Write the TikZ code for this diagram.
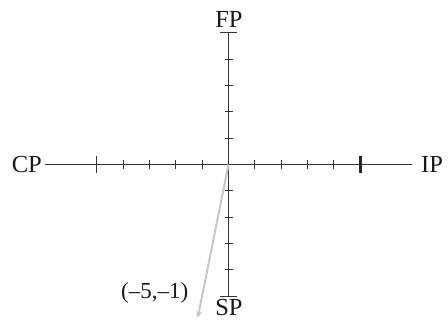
\documentclass[tikz,border=0pt]{standalone}
\usepackage{fontspec}
\setmainfont{Liberation Serif}
\usetikzlibrary{arrows.meta,calc}
\tikzset{
  axis/.style={draw=black!80, line width=1.1pt},
  tick/.style={draw=black!80, line width=1.1pt},
  bigtick/.style={draw=black!85, line width=2.4pt},
  lbl/.style={inner sep=0pt, font=\fontsize{24.5}{28}\selectfont, text=black!90},
  vec/.style={draw={rgb,255:red,200;green,200;blue,192}, line width=2pt,
    -{Stealth[length=7pt,width=6pt]}}
}
\begin{document}
\begin{tikzpicture}[x=1pt,y=-1pt]
\useasboundingbox (0,0) rectangle (448,320);
\coordinate (O) at (228.5,164.5);
\coordinate (L) at (45,164.5);
\coordinate (R) at (412,164.5);
\coordinate (T) at (228.5,32.5);
\coordinate (B) at (228.5,296.5);
\coordinate (V) at (197.7,318);
% axes
\draw[axis] (L) -- (R);
\draw[axis] (T) -- (B);
% horizontal and vertical ticks
\foreach \k in {-4,-3,-2,-1,1,2,3,4}{
  \pgfmathsetmacro{\d}{round(\k*26.3)}
  \draw[tick] ($(O)+(\d,-4.5)$) -- ($(O)+(\d,4.5)$);
  \draw[tick] ($(O)+(-4,\d)$) -- ($(O)+(4.5,\d)$);
}
\draw[tick] ($(O)+(-132,-8.5)$) -- ($(O)+(-132,8.5)$);
\draw[bigtick] ($(O)+(132,-8.5)$) -- ($(O)+(132,8.5)$);
\draw[tick] ($(T)+(-8.5,0)$) -- ($(T)+(8.5,0)$);
\draw[tick] ($(B)+(-8.5,0)$) -- ($(B)+(8.5,0)$);
% labels
\node[lbl, anchor=base] (FP) at (229,27.3) {FP};
\node[lbl, anchor=base] (SP) at (229,315.5) {SP};
\node[lbl, anchor=base east] (CP) at (42,172.7) {CP};
\node[lbl, anchor=base west] (IP) at (421,172.5) {IP};
% vector
\draw[vec] (O) -- (V);
\node[lbl, anchor=base east, font=\fontsize{23}{27}\selectfont] (pt) at (188.5,298.5) {(–5,–1)};
\end{tikzpicture}
\end{document}
